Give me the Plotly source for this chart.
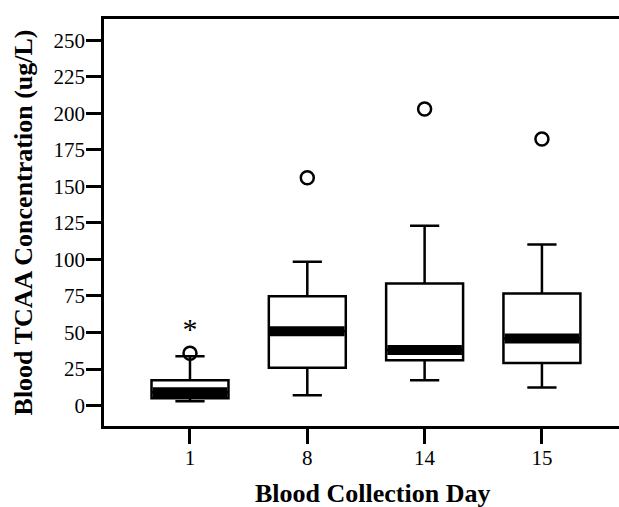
import plotly.graph_objects as go

days = ["1", "8", "14", "15"]
q1 = [5.0, 25.8, 31.0, 29.2]
median = [9.1, 50.9, 38.1, 45.9]
q3 = [17.3, 74.9, 83.6, 76.7]
lower_whisker = [2.9, 7.1, 17.3, 12.3]
upper_whisker = [33.8, 98.4, 123.0, 110.3]
outlier_day_idx = [0, 1, 2, 3]
outlier_vals = [35.8, 155.9, 203.0, 182.4]
extreme_day_idx = [0]
extreme_vals = [51.0]

yticks = [0, 25, 50, 75, 100, 125, 150, 175, 200, 225, 250]

xs = list(range(len(days)))
box_w = 0.656
half = box_w / 2 - 0.01

fig = go.Figure()
fig.add_trace(go.Box(
    x=xs, q1=q1, median=median, q3=q3,
    lowerfence=lower_whisker, upperfence=upper_whisker,
    width=box_w, whiskerwidth=0.38,
    fillcolor="white", line=dict(color="black", width=2.5),
    boxpoints=False, showlegend=False, hoverinfo="skip",
))

mx, my = [], []
for i, m in zip(xs, median):
    mx += [i - half, i + half, None]
    my += [m, m, None]
fig.add_trace(go.Scatter(x=mx, y=my, mode="lines",
                         line=dict(color="black", width=10),
                         showlegend=False, hoverinfo="skip"))

fig.add_trace(go.Scatter(x=outlier_day_idx, y=outlier_vals, mode="markers",
                         marker=dict(symbol="circle-open", size=13,
                                     color="black", line=dict(width=2.5, color="black")),
                         showlegend=False))
fig.add_trace(go.Scatter(x=extreme_day_idx, y=extreme_vals, mode="text", text=["*"],
                         textfont=dict(family="Liberation Serif", size=30, color="black"),
                         textposition="middle center", showlegend=False))

fig.update_layout(
    width=619, height=507,
    margin=dict(l=104, r=0, t=19, b=81),
    paper_bgcolor="white", plot_bgcolor="white",
    font=dict(family="Liberation Serif", color="black", size=21),
    showlegend=False,
    annotations=[dict(text="<b>Blood Collection Day</b>", xref="paper", yref="paper",
                      x=0.521, y=0, yshift=-67, xanchor="center", yanchor="middle",
                      showarrow=False, font=dict(family="Liberation Serif", size=26, color="black"))],
)
fig.update_xaxes(
    range=[-0.733, 3.657], tickmode="array", tickvals=xs, ticktext=days,
    showgrid=False, zeroline=False, showline=True, linecolor="black", linewidth=2.5,
    mirror=True, ticks="outside", ticklen=15, tickwidth=2.5, tickcolor="black",
    tickfont=dict(size=21), ticklabelstandoff=-4,
)
fig.update_yaxes(
    range=[-14, 264.6], tickmode="array", tickvals=yticks,
    showgrid=False, zeroline=False, showline=True, linecolor="black", linewidth=2.5,
    ticks="outside", ticklen=15, tickwidth=2.5, tickcolor="black",
    tickfont=dict(size=21), ticklabelstandoff=-3,
    title=dict(text="<b>Blood TCAA Concentration (ug/L)</b>", font=dict(size=26), standoff=14),
)

fig.write_html("out.html")
